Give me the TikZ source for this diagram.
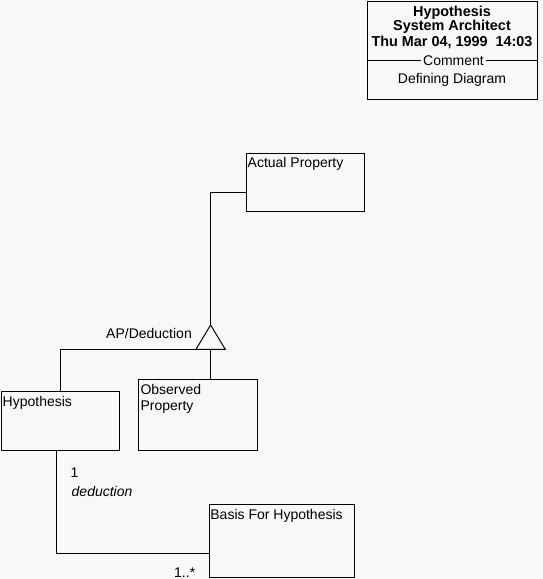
\documentclass[tikz,border=0pt]{standalone}
\usepackage{fontspec}
\setmainfont{Liberation Sans}
\usetikzlibrary{calc}
\definecolor{bg}{RGB}{248,248,248}
\begin{document}
\begin{tikzpicture}[x=1pt,y=-1pt,
  box/.style={draw, line width=1pt, inner sep=0pt, anchor=north west},
  lbl/.style={inner sep=0pt, anchor=base west, font=\fontsize{14}{16.5}\selectfont},
  ttl/.style={inner sep=0pt, anchor=base, font=\fontsize{14.4}{16.5}\selectfont\bfseries},
  ttlr/.style={inner sep=0pt, anchor=base, font=\fontsize{14}{16.5}\selectfont},
  conn/.style={line width=1pt}]
\fill[bg] (0,0) rectangle (543,579);
\useasboundingbox (0,0) rectangle (543,579);
% title block
\node[box, minimum width=170pt, minimum height=98.5pt] (title) at (367,0.5) {};
\node[ttl] (t1) at (452,16) {Hypothesis};
\node[ttl] (t2) at (452,30.5) {System Architect};
\node[ttl] (t3) at (452,46.7) {Thu Mar 04, 1999\ \ 14:03};
\node[ttlr, inner xsep=2pt] (t4) at (453.5,65) {Comment};
\draw[conn] (title.west |- 0,60.5) -- (t4.west |- 0,60.5);
\draw[conn] (t4.east |- 0,60.5) -- (title.east |- 0,60.5);
\node[ttlr] (t5) at (452,83) {Defining Diagram};
% classes
\node[box, minimum width=118pt, minimum height=58pt] (ap) at (246,153) {};
\node[lbl] (apl) at ($(ap.north west)+(1.5,14.5)$) {Actual Property};
\node[box, minimum width=118.5pt, minimum height=59pt] (hyp) at (0.5,391) {};
\node[lbl] (hypl) at ($(hyp.north west)+(2,15)$) {Hypothesis};
\node[box, minimum width=119pt, minimum height=71pt] (obs) at (138.3,379.3) {};
\node[lbl] (obsl1) at ($(obs.north west)+(2,15)$) {Observed};
\node[lbl] (obsl2) at ($(obs.north west)+(2,31.5)$) {Property};
\node[box, minimum width=145.5pt, minimum height=72.5pt] (bas) at (208.7,504.3) {};
\node[lbl] (basl) at ($(bas.north west)+(1.5,15)$) {Basis For Hypothesis};
% generalization triangle
\coordinate (apex) at (210.6,325);
\coordinate (bl) at (196,349.3);
\coordinate (br) at (225.3,349.3);
\coordinate (bm) at (210.6,349.3);
\draw[conn, line join=miter] (apex) -- (bl) -- (br) -- cycle;
\draw[conn] (apex) |- ($(ap.north west)+(0,39.3)$);
\draw[conn] (bl) -| (hyp.north);
\draw[conn] (bm) -- (bm |- obs.north);
\node[lbl] (apd) at (106,338) {AP/Deduction};
% association
\draw[conn] ($(hyp.south west)+(56.2,0)$) |- ($(bas.north west)+(0,49)$);
\node[lbl] (m1) at (70.5,477.5) {1};
\node[lbl, font=\fontsize{14}{16.5}\selectfont\itshape] (role) at (71.5,496.5) {deduction};
\node[lbl] (m2) at (174,577.5) {1..*};
\end{tikzpicture}
\end{document}
